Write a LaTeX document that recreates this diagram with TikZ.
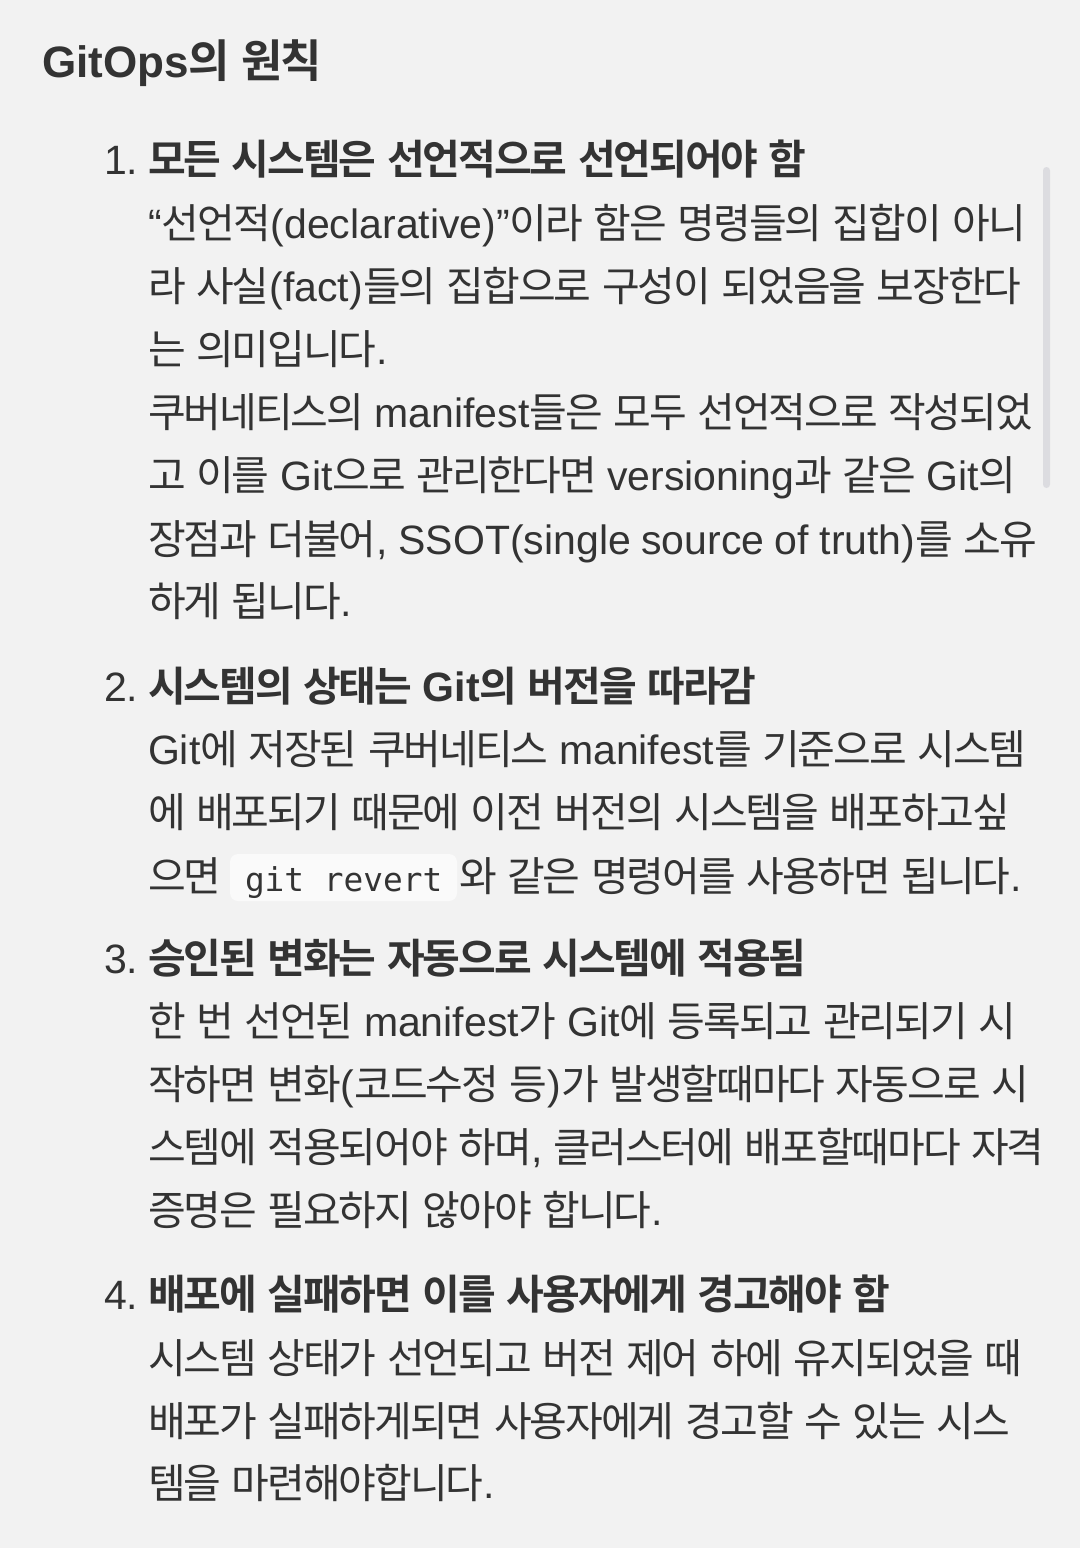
\documentclass[tikz,border=0pt]{standalone}
\usepackage{fontspec}
\setmainfont{Noto Sans CJK KR}[UprightFont=*,BoldFont=* Bold,LetterSpace=-5]
\newfontfamily\en{Liberation Sans}
\newfontfamily\mono{DejaVu Sans Mono}[Scale=0.80]
\definecolor{bg}{HTML}{F2F2F2}
\definecolor{ink}{HTML}{333333}
\definecolor{codebg}{HTML}{FAFAFA}
\definecolor{scroll}{HTML}{DCDCE0}
\newcommand{\bodyfnt}{\fontsize{41}{48}\selectfont\spaceskip=10.5pt\relax}
\newcommand{\titlefnt}{\fontsize{45}{52}\selectfont\bfseries\spaceskip=11pt\relax}
\tikzset{
  txt/.style={anchor=base west, inner sep=0pt, outer sep=0pt, text=ink, font=\bodyfnt},
  head/.style={txt, font=\bodyfnt\bfseries},
  num/.style={txt, font=\bodyfnt\en},
  ttl/.style={anchor=base west, inner sep=0pt, outer sep=0pt, text=ink, font=\titlefnt},
  codebox/.style={fill=codebg, rounded corners=8pt, draw=none}
}
\begin{document}
\begin{tikzpicture}[x=1pt,y=-1pt]
\fill[bg] (0,0) rectangle (1080,1548);
\useasboundingbox (0,0) rectangle (1080,1548);
\fill[scroll, rounded corners=3.5pt] (1043,167) rectangle (1050,488);
% title
\node[ttl] (title) at (42,77) {{\fontsize{44}{50}\selectfont\en\bfseries GitOps}의 원칙};
% item 1
\node[num] (n1) at (104,174) {1.};
\node[head] (h1) at (148,174) {모든 시스템은 선언적으로 선언되어야 함};
\node[txt] (l11) at (148,238) {{\en “}선언적{\en (declarative)”}이라 함은 명령들의 집합이 아니};
\node[txt] (l12) at (148,301) {라 사실{\en (fact)}들의 집합으로 구성이 되었음을 보장한다};
\node[txt] (l13) at (148,364) {는 의미입니다{\en .}};
\node[txt] (l14) at (148,427) {쿠버네티스의 {\en manifest}들은 모두 선언적으로 작성되었};
\node[txt] (l15) at (148,490) {고 이를 {\en Git}으로 관리한다면 {\en versioning}과 같은 {\en Git}의};
\node[txt] (l16) at (148,554) {장점과 더불어{\en , SSOT(single source of truth)}를 소유};
\node[txt] (l17) at (148,616) {하게 됩니다{\en .}};
% item 2
\node[num] (n2) at (104,701) {2.};
\node[head] (h2) at (148,701) {시스템의 상태는 {\en Git}의 버전을 따라감};
\node[txt] (l21) at (148,764) {{\en Git}에 저장된 쿠버네티스 {\en manifest}를 기준으로 시스템};
\node[txt] (l22) at (148,827) {에 배포되기 때문에 이전 버전의 시스템을 배포하고싶};
\fill[codebox] (230,854) rectangle (457,901);
\node[txt] (l23a) at (148,891) {으면};
\node[txt, font={\bodyfnt\mono\spaceskip=0pt\relax}] (code) at (245,891) {git revert};
\node[txt] (l23b) at (459,891) {와 같은 명령어를 사용하면 됩니다{\en .}};
% item 3
\node[num] (n3) at (104,973) {3.};
\node[head] (h3) at (148,973) {승인된 변화는 자동으로 시스템에 적용됨};
\node[txt] (l31) at (148,1036) {한 번 선언된 {\en manifest}가 {\en Git}에 등록되고 관리되기 시};
\node[txt] (l32) at (148,1099) {작하면 변화{\en (}코드수정 등{\en )}가 발생할때마다 자동으로 시};
\node[txt] (l33) at (148,1162) {스템에 적용되어야 하며{\en ,} 클러스터에 배포할때마다 자격};
\node[txt] (l34) at (148,1225) {증명은 필요하지 않아야 합니다{\en .}};
% item 4
\node[num] (n4) at (104,1309) {4.};
\node[head] (h4) at (148,1309) {배포에 실패하면 이를 사용자에게 경고해야 함};
\node[txt] (l41) at (148,1373) {시스템 상태가 선언되고 버전 제어 하에 유지되었을 때};
\node[txt] (l42) at (148,1436) {배포가 실패하게되면 사용자에게 경고할 수 있는 시스};
\node[txt] (l43) at (148,1498) {템을 마련해야합니다{\en .}};
\end{tikzpicture}
\end{document}
